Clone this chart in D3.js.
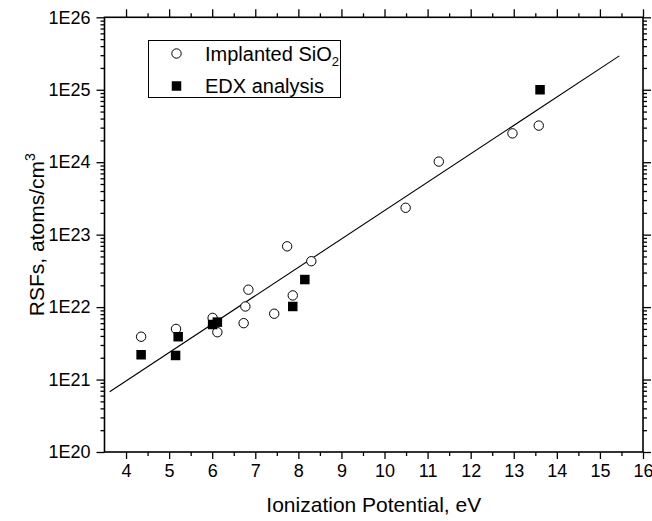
<!DOCTYPE html>
<html><head><meta charset="utf-8">
<script src="https://cdn.jsdelivr.net/npm/d3@7"></script>
<style>body{margin:0;background:#fff}svg{display:block}text{font-family:"Liberation Sans",Arial,sans-serif;fill:#000}</style>
</head><body><svg id="c" width="652" height="521"></svg>
<script>
// Implanted SiO2 (open circles)
const implantedIP = [4.35,5.16,6.01,6.12,6.73,6.77,6.84,7.44,7.74,7.87,8.30,10.49,11.26,12.97,13.58];
const implantedRSF = [3.9e21,5.0e21,7.1e21,4.5e21,6.0e21,1.02e22,1.74e22,8.1e21,6.9e22,1.45e22,4.3e22,2.35e23,1.02e24,2.5e24,3.2e24];
// EDX analysis (filled squares)
const edxIP = [4.35,5.15,5.21,6.01,6.12,7.87,8.15,13.61];
const edxRSF = [2.2e21,2.15e21,3.9e21,5.75e21,6.2e21,1.02e22,2.4e22,1.0e25];
// Linear fit of log10(RSF) vs IP
const fitSlope = 0.3918, fitIntercept = 19.414, fitRange = [3.62, 15.45];
const xTicks = [4,5,6,7,8,9,10,11,12,13,14,15,16];
const yTickLabels = ["1E20","1E21","1E22","1E23","1E24","1E25","1E26"];

(function(){
const svg = d3.select("#c");
const L=104.5, R=643, T=17.3, B=452;
const x = d3.scaleLinear().domain([3.5,16]).range([L,R]);
const y = d3.scaleLog().domain([1e20,1e26]).range([B,T]);
const majorY = d3.range(20,27).map(e=>Math.pow(10,e));
const minorY = [];
for(let e=20;e<26;e++) for(let m=2;m<=9;m++) minorY.push(m*Math.pow(10,e));
const minorX = d3.range(4.5,16,1);

const fs=18;
const gBottom = svg.append("g").attr("transform",`translate(0,${B})`)
  .call(d3.axisBottom(x).tickValues(xTicks).tickFormat(d3.format("d")).tickSize(7).tickPadding(5));
gBottom.append("g").call(d3.axisBottom(x).tickValues(minorX).tickSize(4).tickFormat(""));
const gTop = svg.append("g").attr("transform",`translate(0,${T})`)
  .call(d3.axisBottom(x).tickValues(xTicks).tickSize(-8).tickFormat(""));
gTop.append("g").call(d3.axisBottom(x).tickValues(minorX).tickSize(-4).tickFormat(""));
const gLeft = svg.append("g").attr("transform",`translate(${L},0)`)
  .call(d3.axisLeft(y).tickValues(majorY).tickFormat((d,i)=>yTickLabels[i]).tickSize(8).tickPadding(6));
gLeft.append("g").call(d3.axisLeft(y).tickValues(minorY).tickSize(4).tickFormat(""));
const gRight = svg.append("g").attr("transform",`translate(${R},0)`)
  .call(d3.axisLeft(y).tickValues(majorY).tickSize(-8).tickFormat(""));
gRight.append("g").call(d3.axisLeft(y).tickValues(minorY).tickSize(-4).tickFormat(""));
svg.selectAll(".domain").remove();
svg.selectAll(".tick line").attr("stroke","#000").attr("stroke-width",1.3);
svg.selectAll(".tick text").attr("font-size",fs).attr("font-family","Liberation Sans, Arial, sans-serif").attr("fill","#000");
svg.append("rect").attr("x",L).attr("y",T).attr("width",R-L).attr("height",B-T)
  .attr("fill","none").attr("stroke","#000").attr("stroke-width",1.6);

const fitPts = fitRange.map(v=>[v, Math.pow(10, fitIntercept + fitSlope*v)]);
svg.append("path").attr("d", d3.line().x(d=>x(d[0])).y(d=>y(d[1]))(fitPts))
  .attr("stroke","#000").attr("stroke-width",1.1).attr("fill","none");

svg.append("g").selectAll("circle").data(implantedIP.map((v,i)=>[v,implantedRSF[i]])).join("circle")
  .attr("cx",d=>x(d[0])).attr("cy",d=>y(d[1])).attr("r",4.7)
  .attr("fill","#fff").attr("stroke","#000").attr("stroke-width",1);
const sq=9.5;
svg.append("g").selectAll("rect").data(edxIP.map((v,i)=>[v,edxRSF[i]])).join("rect")
  .attr("x",d=>x(d[0])-sq/2).attr("y",d=>y(d[1])-sq/2).attr("width",sq).attr("height",sq).attr("fill","#000");

const lg = svg.append("g");
lg.append("rect").attr("x",148.5).attr("y",40.5).attr("width",192).attr("height",57)
  .attr("fill","#fff").attr("stroke","#000").attr("stroke-width",1);
lg.append("circle").attr("cx",176.5).attr("cy",53.5).attr("r",4.7).attr("fill","#fff").attr("stroke","#000");
lg.append("rect").attr("x",176.5-sq/2).attr("y",86-sq/2).attr("width",sq).attr("height",sq).attr("fill","#000");
const t1 = lg.append("text").attr("x",205).attr("y",60.5).attr("font-size",20);
t1.append("tspan").text("Implanted SiO");
t1.append("tspan").attr("font-size",13).attr("dy",5).text("2");
lg.append("text").attr("x",205).attr("y",92.5).attr("font-size",20).text("EDX analysis");

svg.append("text").attr("x",(L+R)/2).attr("y",512).attr("text-anchor","middle").attr("font-size",21)
  .text("Ionization Potential, eV");
const yt = svg.append("text").attr("transform",`translate(44,${(T+B)/2}) rotate(-90)`).attr("text-anchor","middle").attr("font-size",21);
yt.append("tspan").text("RSFs, atoms/cm");
yt.append("tspan").attr("font-size",14).attr("dy",-9).text("3");
})();
</script></body></html>
